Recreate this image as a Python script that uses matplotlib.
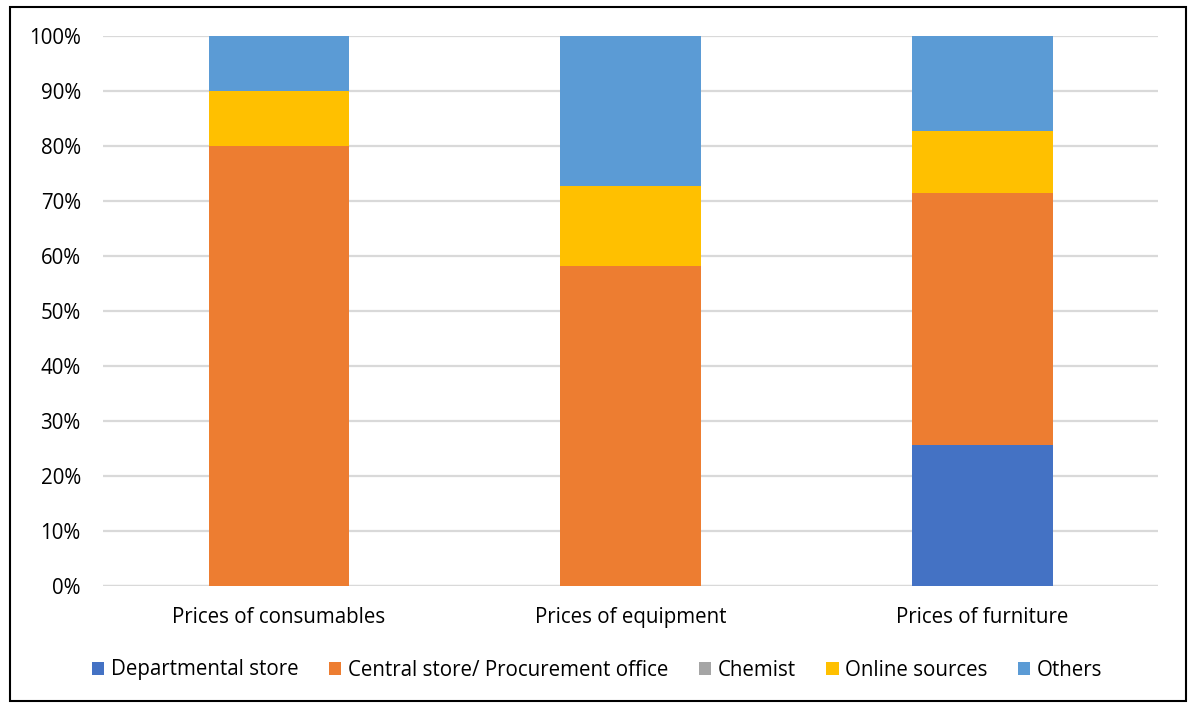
import numpy as np
import matplotlib.pyplot as plt
from matplotlib.ticker import PercentFormatter

plt.rcParams['font.family'] = ['Open Sans', 'DejaVu Sans']

categories = ['Prices of consumables', 'Prices of equipment', 'Prices of furniture']
series = ['Departmental store', 'Central store/ Procurement office', 'Chemist',
          'Online sources', 'Others']
departmental = [0.0, 0.0, 25.7]
central = [80.0, 58.2, 45.7]
chemist = [0.0, 0.0, 0.0]
online = [10.0, 14.5, 11.4]
others = [10.0, 27.3, 17.2]
colors = ['#4472c4', '#ed7d31', '#a5a5a5', '#ffc000', '#5b9bd5']

fig = plt.figure(figsize=(11.94, 7.07), dpi=100)
ax = fig.add_axes([103 / 1194, 1 - 586 / 707, 1055 / 1194, 550 / 707])

x = np.arange(len(categories))
bottom = np.zeros(len(categories))
for name, vals, c in zip(series, [departmental, central, chemist, online, others], colors):
    vals = np.array(vals)
    ax.bar(x, vals, 0.4, bottom=bottom, color=c, label=name, zorder=3)
    bottom += vals

ax.set_xlim(-0.5, 2.5)
ax.set_ylim(0, 100)
ax.set_yticks(np.arange(0, 101, 10))
ax.yaxis.set_major_formatter(PercentFormatter(decimals=0))
ax.set_xticks(x)
ax.set_xticklabels(categories)
ax.grid(axis='y', color='#d9d9d9', linewidth=1.6, zorder=0)
ax.tick_params(length=0, labelsize=14.8, colors='#000000')
ax.tick_params(axis='x', pad=15)
ax.tick_params(axis='y', pad=16)
for s in ax.spines.values():
    s.set_visible(False)
ax.axhline(0, color='#d9d9d9', linewidth=1.6, zorder=2)

fig.legend(loc='center', bbox_to_anchor=(0.5, 1 - 670 / 707), ncol=5, frameon=False,
           fontsize=14.8, handlelength=0.6, handleheight=0.6, handletextpad=0.3,
           columnspacing=1.5)

border = plt.Rectangle((10 / 1194, 6 / 707), 1176 / 1194, 694 / 707, transform=fig.transFigure,
                       fill=False, edgecolor='#000000', linewidth=1.5)
fig.patches.append(border)

fig.savefig('out.png', dpi=100)
